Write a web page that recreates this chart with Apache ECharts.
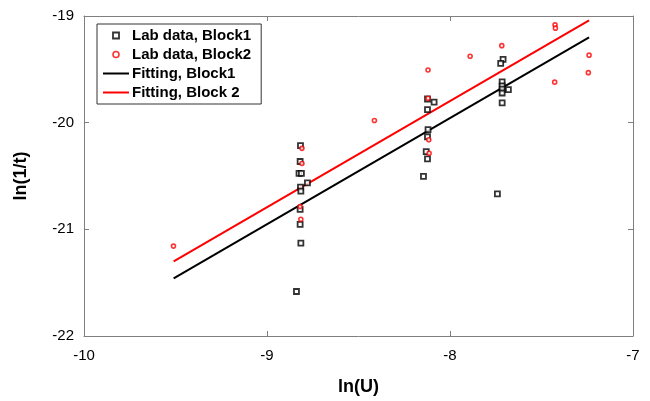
<!DOCTYPE html>
<html>
<head>
<meta charset="utf-8">
<script src="https://cdn.jsdelivr.net/npm/echarts@6/dist/echarts.min.js"></script>
<style>html,body{margin:0;padding:0;background:#fff}#c{width:650px;height:401px}</style>
</head>
<body>
<div id="c"></div>
<script>
// Lab data, Block1: ln(U), ln(1/t)
const block1X = [-8.817,-8.819,-8.825,-8.812,-8.779,-8.817,-8.815,-8.819,-8.819,-8.815,-8.839,
                 -8.123,-8.087,-8.123,-8.120,-8.123,-8.130,-8.123,-8.145,
                 -7.710,-7.723,-7.715,-7.715,-7.715,-7.715,-7.681,-7.715,-7.741];
const block1Y = [-20.216,-20.364,-20.475,-20.475,-20.565,-20.605,-20.642,-20.812,-20.954,-21.130,-21.583,
                 -19.778,-19.808,-19.877,-20.065,-20.132,-20.271,-20.340,-20.503,
                 -19.407,-19.444,-19.618,-19.655,-19.685,-19.722,-19.691,-19.815,-20.667];
// Lab data, Block2
const block2X = [-9.511,-8.809,-8.809,-8.819,-8.815,-8.413,-8.120,-8.120,-8.116,-8.114,
                 -7.890,-7.717,-7.426,-7.424,-7.428,-7.240,-7.244];
const block2Y = [-21.157,-20.241,-20.383,-20.787,-20.905,-19.979,-19.506,-19.771,-20.160,-20.287,
                 -19.377,-19.278,-19.083,-19.114,-19.620,-19.367,-19.531];
// Fitting lines
const fitX = [-9.51, -7.24];
const fit1Y = [-21.46, -19.20];
const fit2Y = [-21.30, -19.04];
const xTicks = [-10, -9, -8, -7];
const yTicks = [-22, -21, -20, -19];

const zip = (a, b) => a.map((v, i) => [v, b[i]]);
const FONT = '"Liberation Sans", Arial, sans-serif';
const frame = {show: true, onZero: false, lineStyle: {color: '#7f7f7f', width: 1}};
const tick = {show: true, inside: true, length: 5, lineStyle: {color: '#7f7f7f'}};
const noSym = {color: 'rgba(0,0,0,0)', borderColor: 'rgba(0,0,0,0)', borderWidth: 0};

const chart = echarts.init(document.getElementById('c'), null, {renderer: 'canvas'});
chart.setOption({
  animation: false,
  backgroundColor: '#fff',
  grid: {left: 84, right: 17, top: 16, bottom: 61},
  legend: {
    orient: 'vertical', left: 97, top: 24,
    itemWidth: 26, itemHeight: 6, itemGap: 4,
    padding: [4, 10, 4, 5],
    borderColor: '#333', borderWidth: 1, backgroundColor: '#fff',
    symbolKeepAspect: true,
    textStyle: {fontFamily: FONT, fontSize: 15, fontWeight: 'bold', color: '#000', padding: [0,0,0,-2]},
    data: [
      {name: 'Lab data, Block1', icon: 'path://M0,0H10V10H0Z', itemStyle: {color: '#fff', borderColor: '#000', borderWidth: 1.8}},
      {name: 'Lab data, Block2', icon: 'circle', itemStyle: {color: '#fff', borderColor: '#ff0000', borderWidth: 1.6}},
      {name: 'Fitting, Block1', itemStyle: noSym, lineStyle: {color: '#000', width: 2}},
      {name: 'Fitting, Block 2', itemStyle: noSym, lineStyle: {color: '#ff0000', width: 2}}
    ]
  },
  xAxis: [{
    type: 'value', min: -10, max: -7, interval: 1, position: 'bottom',
    axisLine: frame, axisTick: tick, splitLine: {show: false},
    axisLabel: {color: '#000', fontFamily: FONT, fontSize: 15, margin: 12,
      formatter: v => xTicks.includes(v) ? String(v) : ''},
    name: 'ln(U)', nameLocation: 'middle', nameGap: 42,
    nameTextStyle: {fontFamily: FONT, fontSize: 18, fontWeight: 'bold', color: '#000'}
  }, {
    type: 'value', min: -10, max: -7, interval: 1, position: 'top',
    axisLine: frame, axisTick: tick, axisLabel: {show: false}, splitLine: {show: false}
  }],
  yAxis: [{
    type: 'value', min: -22, max: -19, interval: 1, position: 'left',
    axisLine: frame, axisTick: tick, splitLine: {show: false},
    axisLabel: {color: '#000', fontFamily: FONT, fontSize: 15, margin: 10,
      formatter: v => yTicks.includes(v) ? String(v) : ''},
    name: 'ln(1/t)', nameLocation: 'middle', nameGap: 54,
    nameTextStyle: {fontFamily: FONT, fontSize: 18, fontWeight: 'bold', color: '#000'}
  }, {
    type: 'value', min: -22, max: -19, interval: 1, position: 'right',
    axisLine: frame, axisTick: tick, axisLabel: {show: false}, splitLine: {show: false}
  }],
  series: [
    {name: 'Lab data, Block1', type: 'scatter', xAxisIndex: 0, yAxisIndex: 0,
     symbol: 'rect', symbolSize: 5, data: zip(block1X, block1Y),
     itemStyle: {color: '#fff', borderColor: '#000', borderWidth: 1.8}, z: 3},
    {name: 'Lab data, Block2', type: 'scatter', xAxisIndex: 0, yAxisIndex: 0,
     symbol: 'circle', symbolSize: 4, data: zip(block2X, block2Y),
     itemStyle: {color: '#fff', borderColor: '#ff0000', borderWidth: 1.6}, z: 3},
    {name: 'Fitting, Block1', type: 'line', xAxisIndex: 0, yAxisIndex: 0,
     symbol: 'none', data: zip(fitX, fit1Y), color: '#000',
     lineStyle: {color: '#000', width: 2}, z: 2},
    {name: 'Fitting, Block 2', type: 'line', xAxisIndex: 0, yAxisIndex: 0,
     symbol: 'none', data: zip(fitX, fit2Y), color: '#ff0000',
     lineStyle: {color: '#ff0000', width: 2}, z: 2}
  ]
});
</script>
</body>
</html>
